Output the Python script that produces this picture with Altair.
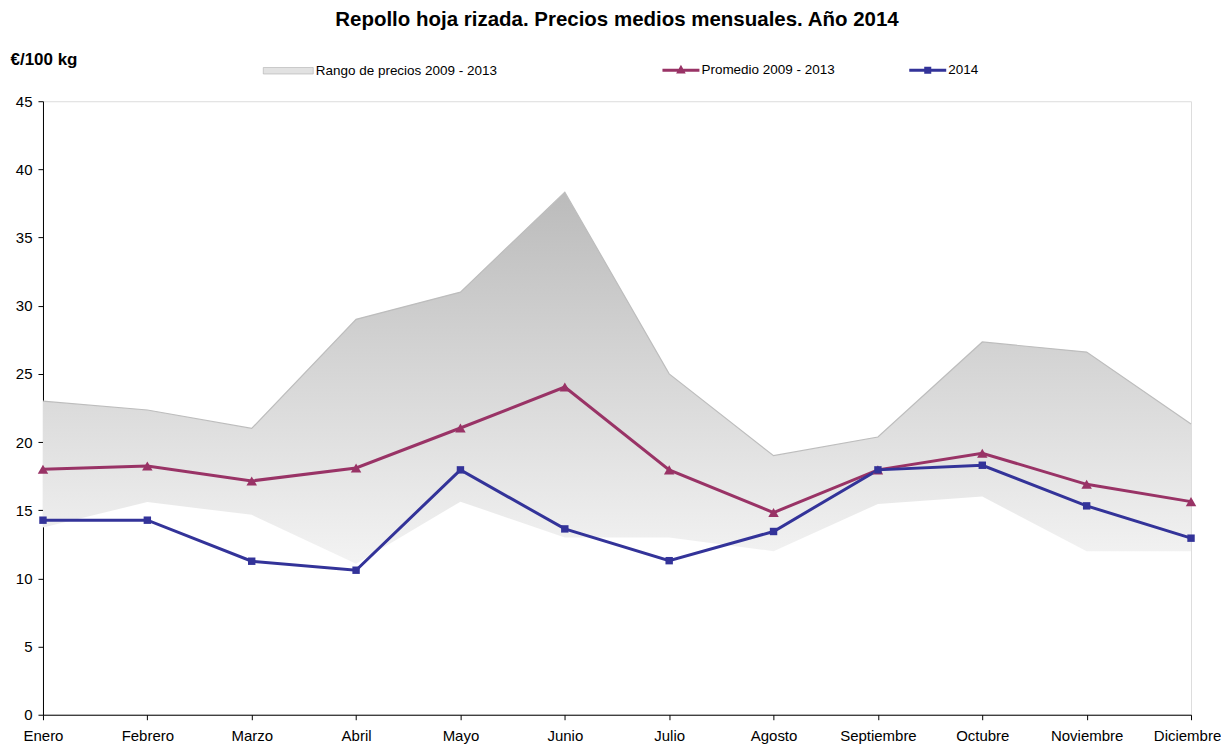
import altair as alt
import pandas as pd

meses = ["Enero", "Febrero", "Marzo", "Abril", "Mayo", "Junio", "Julio",
         "Agosto", "Septiembre", "Octubre", "Noviembre", "Diciembre"]
rango_max = [23.0, 22.35, 21.0, 29.0, 31.0, 38.33, 25.0, 19.0, 20.37, 27.34, 26.6, 21.33]
rango_min = [13.73, 15.6, 14.66, 11.07, 15.63, 13.0, 13.0, 12.0, 15.46, 16.0, 12.0, 12.0]
promedio = [18.0, 18.25, 17.15, 18.1, 21.03, 24.04, 17.96, 14.83, 17.96, 19.18, 16.9, 15.63]
anio_2014 = [14.27, 14.27, 11.26, 10.6, 17.96, 13.63, 11.3, 13.44, 17.96, 18.3, 15.32, 12.95]

serie_rango = "Rango de precios 2009 - 2013"
serie_prom = "Promedio 2009 - 2013"
serie_2014 = "2014"
color_prom = "#993366"
color_2014 = "#333399"

FONT = "Liberation Sans"

band = pd.DataFrame({"mes": meses, "min": rango_min, "max": rango_max})
lines = pd.concat([
    pd.DataFrame({"mes": meses, "valor": promedio, "serie": serie_prom}),
    pd.DataFrame({"mes": meses, "valor": anio_2014, "serie": serie_2014}),
])

x_enc = alt.X("mes:N", sort=meses,
              scale=alt.Scale(type="point", padding=0),
              axis=alt.Axis(title=None, labelAngle=0, labelFontSize=15, labelFont=FONT,
                            labelColor="#000", labelPadding=9, tickColor="#000",
                            tickSize=5, domainColor="#000", grid=False,
                            labelOffset={"condition": {"test": "datum.label == 'Diciembre'",
                                                       "value": -4}, "value": 0}))
y_scale = alt.Scale(domain=[0, 45])
y_axis = alt.Axis(title="€/100 kg", titleAngle=0, titleFont=FONT, titleFontSize=17,
                  titleFontWeight="bold", titleColor="#000", titleAlign="left",
                  titleBaseline="middle", titleX=-33, titleY=-42,
                  values=list(range(0, 50, 5)), labelFontSize=15, labelFont=FONT,
                  labelColor="#000", labelPadding=6, tickColor="#000", tickSize=5,
                  domainColor="#000", grid=False)

gradient = alt.Gradient(gradient="linear", x1=0, y1=0, x2=0, y2=1,
                        stops=[alt.GradientStop(color="#bbbbbb", offset=0),
                               alt.GradientStop(color="#f3f3f3", offset=1)])

area = alt.Chart(band).mark_area(fill=gradient, line=False).encode(
    x=x_enc,
    y=alt.Y("max:Q", scale=y_scale, axis=y_axis),
    y2="min:Q",
)
top_edge = alt.Chart(band).mark_line(color="#bdbdbd", strokeWidth=1.2).encode(
    x=alt.X("mes:N", sort=meses), y="max:Q")

line_color = alt.Color("serie:N",
                       scale=alt.Scale(domain=[serie_prom, serie_2014],
                                       range=[color_prom, color_2014]),
                       legend=None)

line_layer = alt.Chart(lines).mark_line(strokeWidth=3).encode(
    x=alt.X("mes:N", sort=meses),
    y="valor:Q",
    color=line_color,
)
pts = alt.Chart(lines).mark_point(filled=True, opacity=1).encode(
    x=alt.X("mes:N", sort=meses),
    y="valor:Q",
    color=line_color,
    shape=alt.Shape("serie:N", scale=alt.Scale(domain=[serie_prom, serie_2014],
                                               range=["triangle-up", "square"]),
                    legend=None),
    size=alt.Size("serie:N", scale=alt.Scale(domain=[serie_prom, serie_2014],
                                             range=[110, 55]), legend=None),
)


def legend_layer(name, fill, path, size, lx, ly, stroke_w):
    df = pd.DataFrame({"mes": [meses[0]], "valor": [0], "serie": [name]})
    return alt.Chart(df).mark_point(filled=True, opacity=1).encode(
        x=alt.X("mes:N", sort=meses),
        y="valor:Q",
        color=alt.Color("serie:N", scale=alt.Scale(domain=[name], range=[fill]),
                        legend=alt.Legend(title=None, orient="none", direction="horizontal",
                                          legendX=lx, legendY=ly, symbolType=path,
                                          symbolSize=size, symbolOpacity=1,
                                          symbolStrokeColor="#b0b0b0",
                                          symbolStrokeWidth=stroke_w,
                                          labelFont=FONT, labelFontSize=13.5,
                                          labelColor="#000", labelOffset=2,
                                          labelLimit=600)),
    ).transform_filter("false")


leg1 = legend_layer(serie_rango, "#e2e2e2", "M-1,-0.13H1V0.13H-1Z", 2500, 220, -56, 0.6)
leg2 = legend_layer(serie_prom, color_prom,
                    "M-1,-0.08H1V0.08H-1Z M0,-0.3L0.26,0.17H-0.26Z", 1369, 620, -49.5, 0)
leg3 = legend_layer(serie_2014, color_2014,
                    "M-1,-0.08H1V0.08H-1Z M-0.19,-0.19H0.19V0.19H-0.19Z", 1369, 867, -49.5, 0)

chart = alt.layer(area, top_edge, line_layer, pts, leg1, leg2, leg3).resolve_scale(
    color="independent"
).properties(
    width=1149, height=614,
    title=alt.Title("Repollo hoja rizada. Precios medios mensuales. Año 2014",
                    font=FONT, fontSize=20.5, fontWeight="bold", color="#000",
                    anchor="middle", offset=15),
    autosize=alt.AutoSizeParams(type="none"),
    padding={"left": 35, "top": 93, "right": 30, "bottom": 45},
).configure_view(stroke="#8c8c8c", strokeWidth=1.5).configure(background="white")

chart.save("out.html", embed_options={"renderer": "svg", "actions": False})
